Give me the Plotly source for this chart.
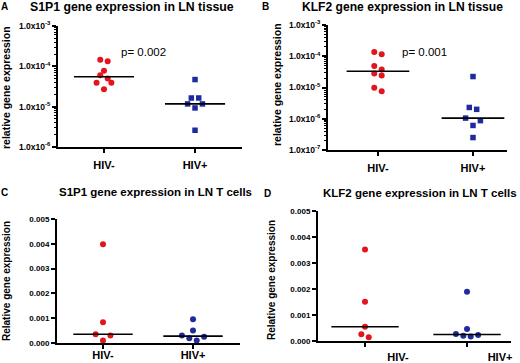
import numpy as np
import plotly.graph_objects as go

W, H = 520, 363

# ---------------- data ----------------
categories = ["HIV-", "HIV+"]

s1p1_tissue_neg = [1.46e-4, 1.33e-4, 7.8e-5, 6.0e-5, 5.0e-5, 3.9e-5, 3.9e-5, 2.7e-5]
s1p1_tissue_pos = [4.7e-5, 1.64e-5, 1.64e-5, 1.17e-5, 1.17e-5, 9.3e-6, 2.6e-6]

klf2_tissue_neg = [1.36e-4, 1.15e-4, 4.9e-5, 3.8e-5, 2.8e-5, 2.4e-5, 9.8e-6, 7.6e-6]
klf2_tissue_pos = [2.24e-5, 2.3e-6, 2.0e-6, 1.05e-6, 8.7e-7, 6.1e-7, 2.5e-7]

s1p1_tcell_neg = [0.00398, 0.00084, 0.00035, 0.00030, 0.00010]
s1p1_tcell_pos = [0.00096, 0.00050, 0.00030, 0.000256, 0.00019, 0.00010]

klf2_tcell_neg = [0.00352, 0.00151, 0.00055, 0.000256, 0.00014]
klf2_tcell_pos = [0.00189, 0.00046, 0.00027, 0.00023, 0.00020, 0.00017]

p_values = ["p= 0.002", "p= 0.001"]
panel_letters = ["A", "B", "C", "D"]
panel_titles = [
    "S1P1 gene expression in LN tissue",
    "KLF2 gene expression in LN tissue",
    "S1P1 gene expression in LN T cells",
    "KLF2 gene expression in LN T cells",
]
ytitle_tissue = "relative gene expression"
ytitle_tcell = "Relative gene expression"
log_exps_A = [-6, -5, -4, -3]
log_exps_B = [-7, -6, -5, -4, -3]
lin_ticks = [0.0, 0.001, 0.002, 0.003, 0.004, 0.005]

RED = "#e3141b"
BLUE = "#1f2a9c"

# ---------------- layout helpers ----------------
# panel boxes in pixels: (x0, x1, y0(top), y1(bottom)), x-range
panels = {
    "A": dict(box=(58, 242, 26, 147), xr=(-0.505, 1.516), log=True, yr=(-6, -3)),
    "B": dict(box=(328, 507, 25, 150), xr=(-0.526, 1.358), log=True, yr=(-7, -3)),
    "C": dict(box=(57, 240, 219, 343), xr=(-0.511, 1.522), log=False, yr=(0, 0.005)),
    "D": dict(box=(318, 511, 211, 341), xr=(-0.461, 1.431), log=False, yr=(0, 0.005)),
}


def px(x):
    return x / W


def py(y):
    return 1 - y / H


def swarm(vals, to_px, d=7.4, c=5.5, r=4.0, m=5.5):
    n = len(vals)
    ys = [to_px(v) for v in vals]
    order = sorted(range(n), key=lambda i: ys[i])
    rows = []
    for i in order:
        if rows and ys[i] - ys[rows[-1][0]] < r:
            rows[-1].append(i)
        else:
            rows.append([i])
    merged = []
    for row in rows:
        if merged and len(row) == 1 and min(abs(ys[row[0]] - ys[j]) for j in merged[-1]) < m:
            merged[-1].append(row[0])
        else:
            merged.append(list(row))
    xs = [0.0] * n
    placed = []
    for row in merged:
        k = len(row)
        base = [(i - (k - 1) / 2) * d for i in range(k)]
        pos = sorted(base, key=lambda o: (round(abs(o), 6), -o))
        members = sorted(row, key=lambda i: vals[i])
        if k == 1:
            trials = [0, d / 2, -d / 2, d, -d, 1.5 * d, -1.5 * d]
            for t in trials:
                if all(np.hypot(t - px_, ys[row[0]] - py_) >= c for px_, py_ in placed):
                    break
            xs[row[0]] = t
            placed.append((t, ys[row[0]]))
            continue
        g = 0.0
        for _ in range(12):
            cand = {}
            for mb, o in zip(members, pos):
                cand[mb] = 0.0 if abs(o) < 1e-9 else np.sign(o) * (abs(o) + g)
            if all(np.hypot(cand[mb] - px_, ys[mb] - py_) >= c for mb in members for px_, py_ in placed):
                break
            g += d / 2
        for mb in members:
            xs[mb] = cand[mb]
            placed.append((cand[mb], ys[mb]))
    return xs


fig = go.Figure()

datasets = {
    "A": (s1p1_tissue_neg, s1p1_tissue_pos, "circle", "square"),
    "B": (klf2_tissue_neg, klf2_tissue_pos, "circle", "square"),
    "C": (s1p1_tcell_neg, s1p1_tcell_pos, "circle", "circle"),
    "D": (klf2_tcell_neg, klf2_tcell_pos, "circle", "circle"),
}

axis_ids = {"A": ("x", "y"), "B": ("x2", "y2"), "C": ("x3", "y3"), "D": ("x4", "y4")}

for key, (neg, pos, sym_neg, sym_pos) in datasets.items():
    p = panels[key]
    x0, x1, y0, y1 = p["box"]
    ph = y1 - y0
    lo, hi = p["yr"]
    unit_px = (x1 - x0) / (p["xr"][1] - p["xr"][0])
    if p["log"]:
        to_px = lambda v, lo=lo, hi=hi, ph=ph: (hi - np.log10(v)) / (hi - lo) * ph
    else:
        to_px = lambda v, lo=lo, hi=hi, ph=ph: (hi - v) / (hi - lo) * ph
    xa, ya = axis_ids[key]
    for ci, (vals, color, sym) in enumerate([(neg, RED, sym_neg), (pos, BLUE, sym_pos)]):
        offs = swarm(vals, to_px)
        xs = [ci + o / unit_px for o in offs]
        fig.add_trace(go.Scatter(
            x=xs, y=vals, mode="markers", xaxis=xa, yaxis=ya,
            marker=dict(symbol=sym, size=6 if sym == "circle" else 5.5, color=color, line=dict(width=0)),
            showlegend=False, cliponaxis=False, hoverinfo="y",
        ))
        med = float(np.median(vals))
        fig.add_trace(go.Scatter(
            x=[ci - 0.33, ci + 0.33], y=[med, med], mode="lines", xaxis=xa, yaxis=ya,
            line=dict(color="black", width=1.6), showlegend=False, hoverinfo="skip",
        ))

layout = dict(
    width=W, height=H, margin=dict(l=0, r=0, t=0, b=0),
    paper_bgcolor="white", plot_bgcolor="white", showlegend=False,
    font=dict(family="Liberation Sans, Arial, sans-serif", color="black"),
)

label_standoff = {"A": 3, "B": 3, "C": -3, "D": 1}
label_shift = {"A": 0, "B": 0, "C": 0, "D": 33}

for idx, key in enumerate(["A", "B", "C", "D"]):
    p = panels[key]
    x0, x1, y0, y1 = p["box"]
    xa = "xaxis" if idx == 0 else f"xaxis{idx + 1}"
    ya = "yaxis" if idx == 0 else f"yaxis{idx + 1}"
    yref = "y" if idx == 0 else f"y{idx + 1}"
    xref = "x" if idx == 0 else f"x{idx + 1}"
    layout[xa] = dict(
        domain=[px(x0), px(x1)], range=list(p["xr"]), anchor=yref,
        tickmode="array", tickvals=[0, 1], ticktext=categories,
        showline=True, linecolor="black", linewidth=2,
        ticks="outside", ticklen=4, tickwidth=1.5, tickcolor="black",
        showgrid=False, zeroline=False, fixedrange=True, automargin=False,
        tickfont=dict(size=11, weight="bold", color="black"),
        ticklabelshift=label_shift[key],
    )
    if p["log"]:
        exps = log_exps_A if key == "A" else log_exps_B
        minor_vals = [m * 10.0 ** e for e in exps[:-1] for m in range(2, 10)]
        layout[ya] = dict(
            domain=[py(y1), py(y0)], type="log", range=list(p["yr"]), anchor=xref,
            tickmode="array", tickvals=[10.0 ** e for e in exps],
            ticktext=[f"1.0x10<sup>{e}</sup>" for e in exps],
            showline=True, linecolor="black", linewidth=2,
            ticks="outside", ticklen=4, tickwidth=1.5, tickcolor="black",
            minor=dict(ticks="outside", ticklen=2, tickwidth=1, tickcolor="black",
                       tickmode="array", tickvals=minor_vals, showgrid=False),
            showgrid=False, zeroline=False, fixedrange=True, automargin=False,
            tickfont=dict(size=8.5, weight="bold", color="black"),
        )
    else:
        layout[ya] = dict(
            domain=[py(y1), py(y0)], range=list(p["yr"]), anchor=xref,
            tickmode="array", tickvals=lin_ticks, ticktext=[f"{t:.3f}" for t in lin_ticks],
            showline=True, linecolor="black", linewidth=2,
            ticks="outside", ticklen=4, tickwidth=1.5, tickcolor="black",
            showgrid=False, zeroline=False, fixedrange=True, automargin=False,
            tickfont=dict(size=8, weight="bold", color="black"),
        )

fig.update_layout(**layout)

for idx, key in enumerate(["A", "B", "C", "D"]):
    name = "xaxis" if idx == 0 else f"xaxis{idx + 1}"
    try:
        fig.layout[name].ticklabelstandoff = label_standoff[key]
    except Exception:
        fig.layout[name].ticklabelstandoff = max(0, label_standoff[key])

ann = []


def add_text(text, x, y, size, bold=True, angle=0):
    ann.append(dict(
        text=text, x=px(x), y=py(y), xref="paper", yref="paper",
        xanchor="center", yanchor="middle", showarrow=False, textangle=angle,
        font=dict(size=size, weight="bold" if bold else "normal", color="black",
                  family="Liberation Sans, Arial, sans-serif"),
    ))


# panel letters
for letter, (x, y) in zip(panel_letters, [(4, 7), (265, 7), (4, 192), (267, 193)]):
    add_text(letter, x, y, 10)
# titles
for t, (x, y), s in zip(panel_titles, [(132, 7), (402, 7), (155, 192), (420, 193)], [12.3, 12.1, 11.5, 11.5]):
    add_text(t, x, y, s)
# y titles
add_text(ytitle_tissue, 6, 88, 10.5, angle=-90)
add_text(ytitle_tissue, 277, 85, 10.5, angle=-90)
add_text(ytitle_tcell, 6, 281, 10, angle=-90)
add_text(ytitle_tcell, 271, 280, 10, angle=-90)
# p values
add_text(p_values[0], 143, 52, 11.5, bold=False)
add_text(p_values[1], 424, 52, 11.5, bold=False)

fig.update_layout(annotations=ann)
fig.write_html(
    "out.html",
    config={"displayModeBar": False, "responsive": False},
    post_script="document.body.style.margin='0px';document.body.style.padding='0px';",
)
